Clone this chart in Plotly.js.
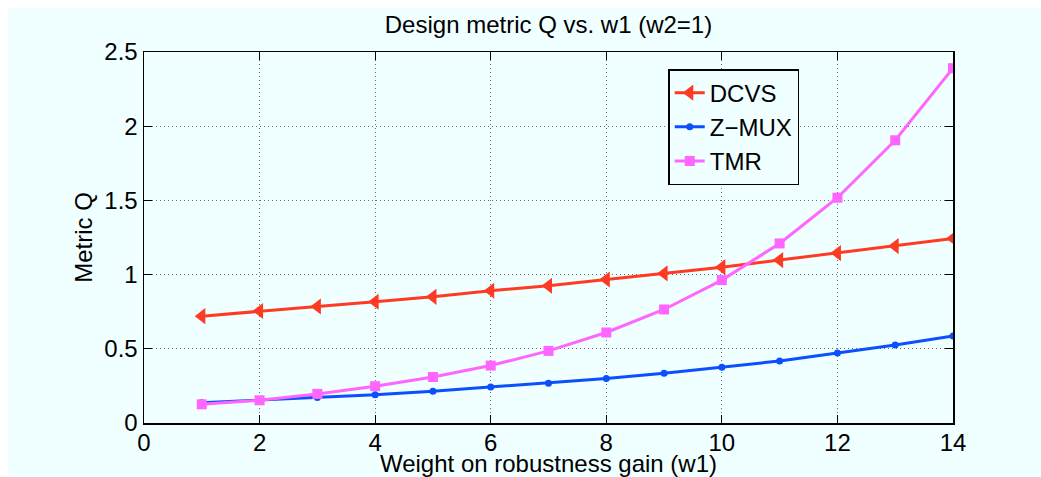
<!DOCTYPE html>
<html>
<head>
<meta charset="utf-8">
<script src="https://cdn.plot.ly/plotly-3.0.1.min.js"></script>
<style>
  html, body { margin: 0; padding: 0; background: #ffffff; overflow: hidden; }
  #chart { position: absolute; left: 8px; top: 8px; width: 1033px; height: 469px; }
</style>
</head>
<body>
<div id="chart"></div>
<script>
const w1 = [1, 2, 3, 4, 5, 6, 7, 8, 9, 10, 11, 12, 13, 14];
const dcvs = [0.72, 0.755, 0.785, 0.817, 0.85, 0.891, 0.925, 0.967, 1.008, 1.05, 1.098, 1.145, 1.192, 1.244];
const zmux = [0.137, 0.153, 0.171, 0.19, 0.214, 0.242, 0.268, 0.30, 0.335, 0.376, 0.418, 0.472, 0.526, 0.587];
const tmr  = [0.126, 0.153, 0.196, 0.248, 0.31, 0.387, 0.486, 0.61, 0.765, 0.963, 1.21, 1.518, 1.905, 2.391];
const seriesNames = ["DCVS", "Z\u2212MUX", "TMR"];
const xTicks = [0, 2, 4, 6, 8, 10, 12, 14];
const yTicks = [0, 0.5, 1, 1.5, 2, 2.5];
const yTickText = ["0", "0.5", "1", "1.5", "2", "2.5"];

const FONT = "Liberation Sans, Arial, Helvetica, sans-serif";
const FS = 24;
const BG = "#f0ffff";

const traces = [
  { x: w1, y: dcvs, name: seriesNames[0], legendgroup: "a", mode: "lines+markers",
    line: { color: "#ff3a22", width: 3 },
    marker: { symbol: "triangle-left", size: 14, color: "#ff3a22" } },
  { x: w1, y: zmux, name: seriesNames[1], legendgroup: "b", mode: "lines+markers",
    line: { color: "#0a50ff", width: 3 },
    marker: { symbol: "circle", size: 7, color: "#0a50ff" } },
  { x: w1, y: tmr, name: seriesNames[2], legendgroup: "c", mode: "lines+markers",
    line: { color: "#ff66ff", width: 3 },
    marker: { symbol: "square", size: 10, color: "#ff66ff" } }
];

const axisCommon = {
  showline: true, linecolor: "#000", linewidth: 1.5, mirror: "allticks",
  ticks: "inside", ticklen: 8, tickwidth: 1.2, tickcolor: "#000",
  showgrid: true, gridcolor: "#6f6f6f", griddash: "1px,3px", gridwidth: 1,
  zeroline: false, tickfont: { family: FONT, size: FS, color: "#000" }
};

const layout = {
  width: 1033, height: 469,
  paper_bgcolor: BG, plot_bgcolor: BG,
  margin: { l: 136, r: 88, t: 44, b: 54 },
  font: { family: FONT, color: "#000" },
  title: { text: "Design metric Q vs. w1 (w2=1)", font: { family: FONT, size: FS, color: "#000" },
           x: 0.5, xanchor: "center", y: 0.964, yanchor: "middle", xref: "paper" },
  xaxis: Object.assign({}, axisCommon, {
    range: [0, 14], tickvals: xTicks, ticktext: xTicks.map(String),
    ticklabelstandoff: -2,
    title: { text: "Weight on robustness gain (w1)", font: { family: FONT, size: FS, color: "#000" }, standoff: 0 }
  }),
  yaxis: Object.assign({}, axisCommon, {
    range: [0, 2.5], tickvals: yTicks, ticktext: yTickText,
    title: { text: "Metric Q", font: { family: FONT, size: FS, color: "#000" }, standoff: 5 }
  }),
  showlegend: true,
  legend: {
    x: 0.648, y: 0.954, xanchor: "left", yanchor: "top",
    bgcolor: BG, bordercolor: "#000", borderwidth: 1.5,
    font: { family: FONT, size: FS, color: "#000" },
    tracegroupgap: 6, traceorder: "normal"
  }
};

Plotly.newPlot("chart", traces, layout, { displayModeBar: false, staticPlot: true });
</script>
</body>
</html>
